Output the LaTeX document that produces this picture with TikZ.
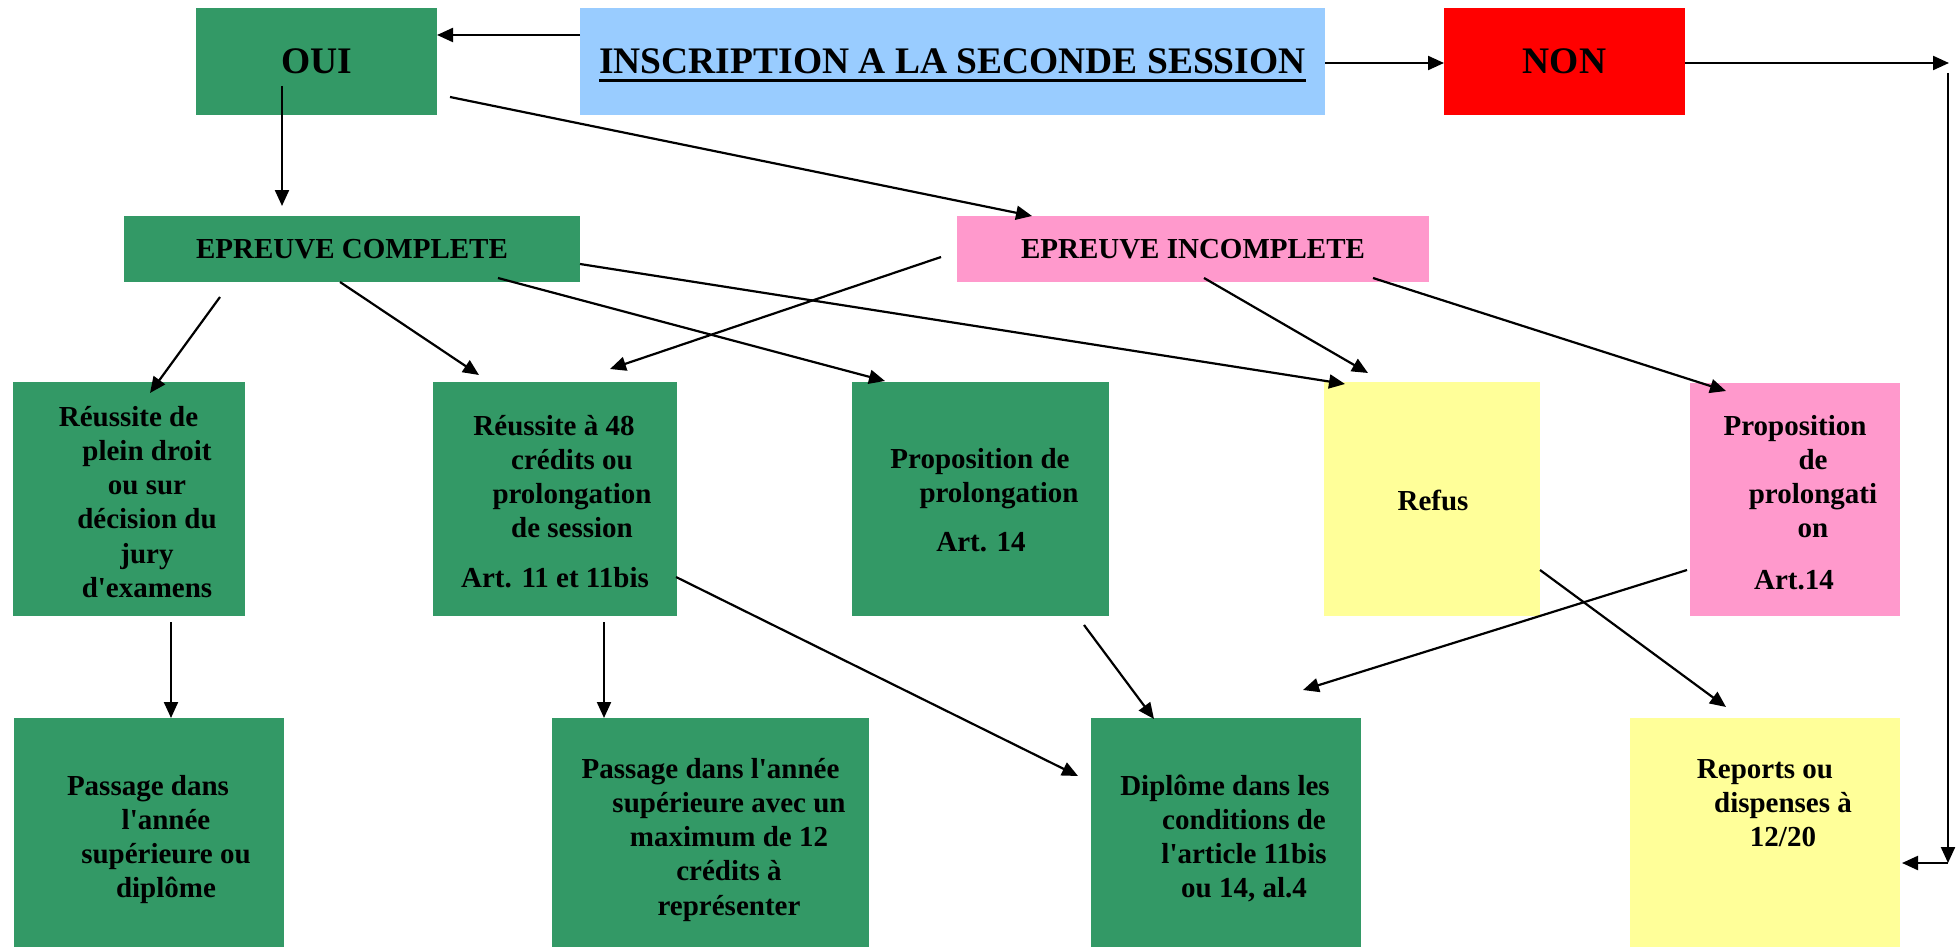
\documentclass[tikz,border=0pt]{standalone}
\usepackage{fontspec}
\setmainfont{Liberation Serif}
\usetikzlibrary{arrows.meta}
\definecolor{cgreen}{HTML}{339966}
\definecolor{cblue}{HTML}{99CCFF}
\definecolor{cred}{HTML}{FF0000}
\definecolor{cpink}{HTML}{FF99CC}
\definecolor{cyellow}{HTML}{FFFF99}
\newcommand{\bfbody}{\fontsize{29}{34.3}\selectfont\bfseries}
\newcommand{\bftop}{\fontsize{37.5}{42}\selectfont\bfseries}
\newcommand{\tstrut}{\rule{0pt}{25pt}}
\newcommand{\padw}[1]{\hbox to #1pt{}}
\newcommand{\ulbox}[1]{\setbox0\hbox{#1}\rlap{\rule[-8pt]{\wd0}{3.3pt}}\box0}
\newcommand{\q}{\textquotesingle}
\tikzset{
  box/.style={draw=none, inner sep=0pt, outer sep=0pt, anchor=center},
  toptext/.style={font=\bftop, text height=24.8pt, text depth=0pt},
  eptext/.style={font=\bfbody, text height=19.2pt, text depth=0pt},
  txt/.style={font=\bfbody, align=center, inner sep=0pt, outer sep=0pt, anchor=north},
  arr/.style={line width=2.2pt, -{Triangle[length=16pt,width=14pt]}},
}
\begin{document}
\begin{tikzpicture}[x=1pt,y=-1pt]
\useasboundingbox (0,0) rectangle (1959,947);
% top row
\node[box, toptext, fill=cgreen, minimum width=241pt, minimum height=107pt] (oui) at (316.5,61.5) {OUI};
\node[box, toptext, fill=cblue, minimum width=745pt, minimum height=107pt] (insc) at (952.5,61.5) {\ulbox{INSCRIPTION A LA SECONDE SESSION}};
\node[box, toptext, fill=cred, minimum width=241pt, minimum height=107pt] (non) at (1564.5,61.5) {NON};
% second row
\node[box, eptext, fill=cgreen, minimum width=456pt, minimum height=66pt] (epc) at (352,249) {EPREUVE COMPLETE};
\node[box, eptext, fill=cpink, minimum width=472pt, minimum height=66pt] (epi) at (1193,249) {EPREUVE INCOMPLETE};
% third row boxes
\node[box, fill=cgreen, minimum width=232pt, minimum height=234pt] (r1) at (129,499) {};
\node[box, fill=cgreen, minimum width=244pt, minimum height=234pt] (r2) at (555,499) {};
\node[box, fill=cgreen, minimum width=257pt, minimum height=234pt] (r3) at (980.5,499) {};
\node[box, fill=cyellow, minimum width=216pt, minimum height=234pt] (r4) at (1432,499) {};
\node[box, fill=cpink, minimum width=210pt, minimum height=233pt] (r5) at (1795,499.5) {};
% fourth row boxes
\node[box, fill=cgreen, minimum width=270pt, minimum height=229pt] (p1) at (149,832.5) {};
\node[box, fill=cgreen, minimum width=317pt, minimum height=229pt] (p2) at (710.5,832.5) {};
\node[box, fill=cgreen, minimum width=270pt, minimum height=229pt] (p3) at (1226,832.5) {};
\node[box, fill=cyellow, minimum width=270pt, minimum height=229pt] (p4) at (1765,832.5) {};
% texts
\node[txt] (r1t) at (147,401) {\tstrut R\'eussite de\padw{37}\\ plein droit\\ ou sur\\ d\'ecision du\\ jury\\ d\q examens};
\node[txt] (r2t) at (572,410) {\tstrut R\'eussite \`a 48\padw{36}\\ cr\'edits ou\\ prolongation\\ de session\\[15pt] Art. 11 et 11bis\padw{34}};
\node[txt] (r3t) at (999,443) {\tstrut Proposition de\padw{38}\\ prolongation\\[15pt] Art. 14\padw{36}};
\node[txt] (r4t) at (1433,485) {\tstrut Refus};
\node[txt] (r5t) at (1813,410) {\tstrut Proposition\padw{36}\\ de\\ prolongati\\ on\\[17pt] Art.14\padw{38}};
\node[txt] (p1t) at (166,770) {\tstrut Passage dans\padw{36}\\ l\q ann\'ee\\ sup\'erieure ou\\ dipl\^ome};
\node[txt] (p2t) at (729,753) {\tstrut Passage dans l\q ann\'ee\padw{37}\\ sup\'erieure avec un\\ maximum de 12\\ cr\'edits \`a\\ repr\'esenter};
\node[txt] (p3t) at (1244,770) {\tstrut Dipl\^ome dans les\padw{38}\\ conditions de\\ l\q article 11bis\\ ou 14, al.4};
\node[txt] (p4t) at (1783,753) {\tstrut Reports ou\padw{36}\\ dispenses \`a\\ 12/20};
% free coordinates on the right
\coordinate (c1) at (1949,63);
\coordinate (c2) at (1948,73);
\coordinate (c3) at (1948,863);
% connectors
\draw[arr] ([shift={(0,-26.5)}]insc.west) -- ([shift={(0,-26.5)}]oui.east);
\draw[arr] ([shift={(0,1.5)}]insc.east) -- ([shift={(0,1.5)}]non.west);
\draw[arr] ([shift={(0,1.5)}]non.east) -- (c1);
\draw[arr] (c2) -- (c3);
\draw[arr] (c3) -- ([shift={(2,0)}]p4.east |- c3);
\draw[arr] ([shift={(-34.5,24.5)}]oui.center) -- ([shift={(-70,-10)}]epc.north);
\draw[arr] ([shift={(13,35.5)}]oui.east) -- ([shift={(75,0)}]epi.north west);
\draw[arr] ([shift={(-132,15)}]epc.south) -- ([shift={(21,11)}]r1.north);
\draw[arr] ([shift={(-12,0)}]epc.south) -- ([shift={(-76,-7)}]r2.north);
\draw[arr] ([shift={(-82,-4)}]epc.south east) -- ([shift={(33,-1)}]r3.north west);
\draw[arr] ([shift={(0,15)}]epc.east) -- ([shift={(21,2)}]r4.north west);
\draw[arr] ([shift={(-16,8)}]epi.west) -- ([shift={(-67,-13)}]r2.north east);
\draw[arr] ([shift={(11,-4)}]epi.south) -- ([shift={(-64,-9)}]r4.north);
\draw[arr] ([shift={(-56,-4)}]epi.south east) -- ([shift={(36,8)}]r5.north west);
\draw[arr] ([shift={(42,6)}]r1.south) -- ([shift={(22,0)}]p1.north);
\draw[arr] ([shift={(49,6)}]r2.south) -- ([shift={(-106.5,0)}]p2.north);
\draw[arr] ([shift={(-1,78)}]r2.east) -- ([shift={(-13,-56.5)}]p3.west);
\draw[arr] ([shift={(103.5,9)}]r3.south) -- ([shift={(-72,1)}]p3.north);
\draw[arr] ([shift={(-3,70.5)}]r5.west) -- ([shift={(-58,-28)}]p3.north east);
\draw[arr] ([shift={(0,71)}]r4.east) -- ([shift={(-39,-11)}]p4.north);
\end{tikzpicture}
\end{document}
